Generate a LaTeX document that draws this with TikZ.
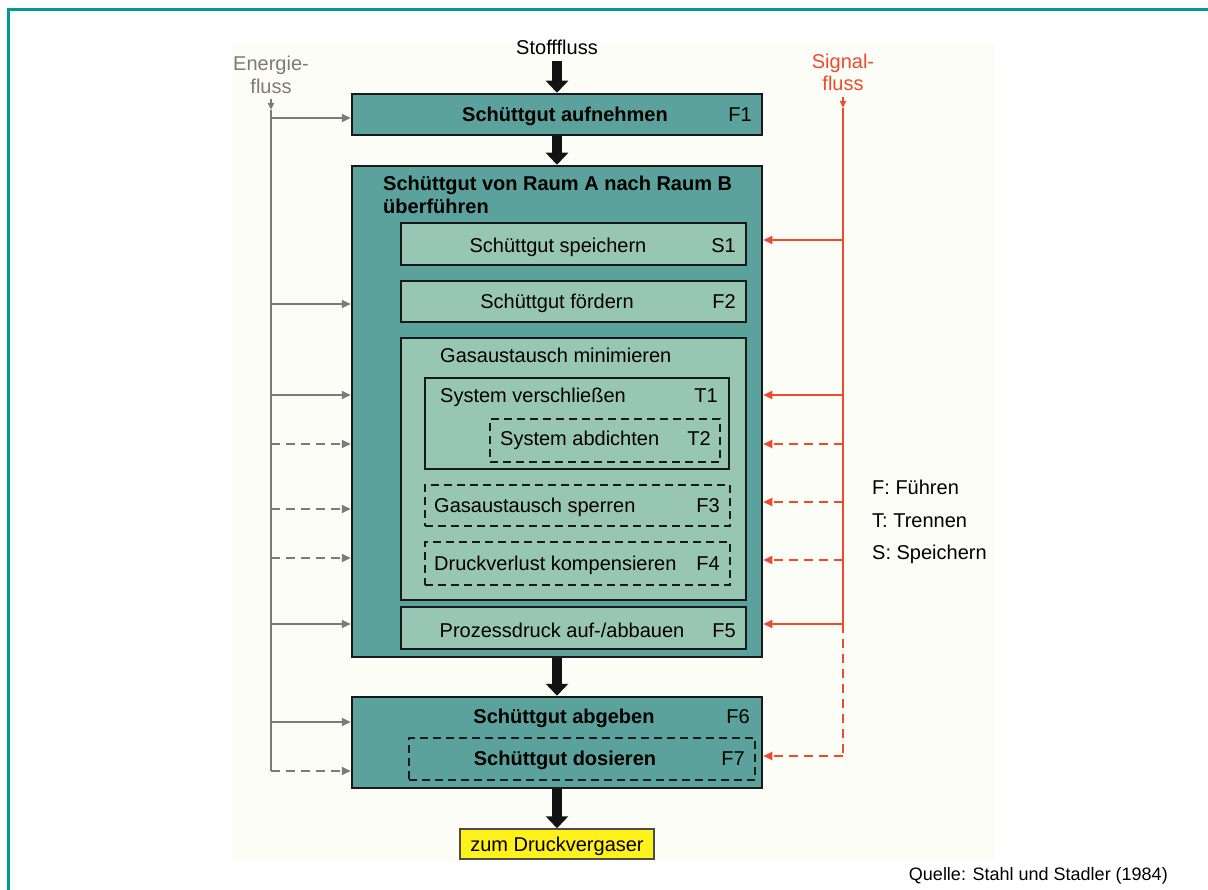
\documentclass[tikz,border=0pt]{standalone}
\usepackage{fontspec}
\setmainfont{Liberation Sans}
\usetikzlibrary{arrows.meta}

\definecolor{rahmen}{HTML}{009A93}
\definecolor{dunkel}{HTML}{5BA29C}
\definecolor{hell}{HTML}{97C6B2}
\definecolor{energie}{HTML}{7E7A78}
\definecolor{signal}{HTML}{EE4A2E}
\definecolor{gelb}{HTML}{FFF21A}
\definecolor{grund}{HTML}{FDFDF8}

\begin{document}
\begin{tikzpicture}[x=1pt,y=-1pt]
	\tikzset{aussen/.style={rectangle, draw=black!90, line width=2.5pt, fill=dunkel, inner sep=0pt},
		innen/.style={rectangle, draw=black!90, line width=2.5pt, fill=hell, inner sep=0pt},
		strich/.style={rectangle, draw=black!90, line width=2.3pt, dash pattern=on 8pt off 5pt, inner sep=0pt},
		txt/.style={inner sep=0pt, font=\fontsize{20}{24}\selectfont},
		fett/.style={inner sep=0pt, font=\fontsize{20}{24}\selectfont\bfseries},
		stoff/.style={draw=black!93, line width=10pt, -{Triangle[length=12pt, width=22pt]}},
		epfeil/.style={draw=energie, line width=2pt, -{Triangle[length=9pt, width=8pt]}},
		spfeil/.style={draw=signal, line width=2pt, -{Triangle[length=9pt, width=8pt]}},
		gestr/.style={dash pattern=on 9pt off 6pt}}
	\useasboundingbox (0,0) rectangle (1208,890);
	\fill[grund] (232,42) rectangle (995,862);
	\draw[rahmen, line width=3pt] (8.5,890) -- (8.5,9.5) -- (1208,9.5);

	% Kaesten
	\node[aussen, minimum width=410pt, minimum height=41pt] at (557,114.5) (f1) {};
	\node[aussen, minimum width=410pt, minimum height=491pt] at (557,411.5) (raum) {};
	\node[innen, minimum width=345pt, minimum height=42pt] at (573.5,244) (s1) {};
	\node[innen, minimum width=345pt, minimum height=41pt] at (573.5,301.5) (f2) {};
	\node[innen, minimum width=345pt, minimum height=262pt] at (573.5,469) (gas) {};
	\node[innen, minimum width=304pt, minimum height=91pt] at (577,423.5) (t1) {};
	\node[strich, minimum width=230pt, minimum height=43pt] at (605,440.5) (t2) {};
	\node[strich, minimum width=305pt, minimum height=41pt] at (577.5,505.5) (f3) {};
	\node[strich, minimum width=305pt, minimum height=43pt] at (577.5,563.5) (f4) {};
	\node[innen, minimum width=345pt, minimum height=42pt] at (573.5,628) (f5) {};
	\node[aussen, minimum width=410pt, minimum height=91pt] at (557,742.5) (f6) {};
	\node[strich, minimum width=346pt, minimum height=42pt] at (582,759) (f7) {};
	\node[rectangle, draw=black!70, line width=1.5pt, fill=gelb, minimum width=194pt, minimum height=30pt, inner sep=0pt] at (557,844) (ziel) {};

	% Texte
	\node[fett, anchor=base] at (565,122) (f1txt) {Schüttgut aufnehmen};
	\node[txt, anchor=base east] at (752,122) (f1nr) {F1};
	\node[fett, anchor=base west] at (383,191) (raumtxt) {Schüttgut von Raum A nach Raum B};
	\node[fett, anchor=base west] at (383,214) (raumtxtb) {überführen};
	\node[txt, anchor=base] at (558,253) (s1txt) {Schüttgut speichern};
	\node[txt, anchor=base east] at (736,253) (s1nr) {S1};
	\node[txt, anchor=base] at (557,309) (f2txt) {Schüttgut fördern};
	\node[txt, anchor=base east] at (736,309) (f2nr) {F2};
	\node[txt, anchor=base west] at (440,363) (gastxt) {Gasaustausch minimieren};
	\node[txt, anchor=base west] at (440,403) (t1txt) {System verschließen};
	\node[txt, anchor=base east] at (718,403) (t1nr) {T1};
	\node[txt, anchor=base west] at (500,446) (t2txt) {System abdichten};
	\node[txt, anchor=base east] at (711,446) (t2nr) {T2};
	\node[txt, anchor=base west] at (434,512) (f3txt) {Gasaustausch sperren};
	\node[txt, anchor=base east] at (720,512) (f3nr) {F3};
	\node[txt, anchor=base west] at (434,570) (f4txt) {Druckverlust kompensieren};
	\node[txt, anchor=base east] at (720,570) (f4nr) {F4};
	\node[txt, anchor=base] at (562,637) (f5txt) {Prozessdruck auf-/abbauen};
	\node[txt, anchor=base east] at (736,637) (f5nr) {F5};
	\node[fett, anchor=base] at (564,723) (f6txt) {Schüttgut abgeben};
	\node[txt, anchor=base east] at (750,723) (f6nr) {F6};
	\node[fett, anchor=base] at (565,765) (f7txt) {Schüttgut dosieren};
	\node[txt, anchor=base east] at (745,765) (f7nr) {F7};
	\node[txt, anchor=base] at (557,851) (zieltxt) {zum Druckvergaser};

	\node[txt, anchor=base] at (557,55) (stofftxt) {Stofffluss};
	\node[txt, anchor=base, text=energie] at (271,71) (energietxt) {Energie-};
	\node[txt, anchor=base, text=energie] at (271,94) (energietxtb) {fluss};
	\node[txt, anchor=base, text=signal] at (843,69) (signaltxt) {Signal-};
	\node[txt, anchor=base, text=signal] at (843,91) (signaltxtb) {fluss};

	\node[txt, anchor=base west] at (872,494) (legf) {F: Führen};
	\node[txt, anchor=base west] at (872,527) (legt) {T: Trennen};
	\node[txt, anchor=base west] at (872,559) (legs) {S: Speichern};
	\node[inner sep=0pt, anchor=base east, font=\fontsize{18}{20}\selectfont] at (1168,880) (quelle) {Quelle: Stahl und Stadler (1984)};

	% Stofffluss
	\draw[stoff] (557,61) -- (f1.north);
	\draw[stoff] (f1.south) -- (raum.north);
	\draw[stoff] (raum.south) -- (f6.north);
	\draw[stoff] (f6.south) -- (ziel.north);

	% Energiefluss
	\coordinate (etop) at (271,110);
	\coordinate (ebot) at (271,771);
	\draw[epfeil, -{Triangle[length=7pt, width=6pt]}] (271,99) -- (etop);
	\draw[energie, line width=2pt] (etop) -- (ebot);
	\coordinate (e1) at (271,118);
	\coordinate (e2) at (271,304);
	\coordinate (e3) at (271,395);
	\coordinate (e4) at (271,444);
	\coordinate (e5) at (271,509);
	\coordinate (e6) at (271,558);
	\coordinate (e7) at (271,624);
	\coordinate (e8) at (271,722);
	\draw[epfeil] (e1) -- (e1 -| f1.west);
	\draw[epfeil] (e2) -- (e2 -| raum.west);
	\draw[epfeil] (e3) -- (e3 -| raum.west);
	\draw[epfeil, gestr] (e4) -- (e4 -| raum.west);
	\draw[epfeil, gestr] (e5) -- (e5 -| raum.west);
	\draw[epfeil, gestr] (e6) -- (e6 -| raum.west);
	\draw[epfeil] (e7) -- (e7 -| raum.west);
	\draw[epfeil] (e8) -- (e8 -| f6.west);
	\draw[epfeil, gestr] (ebot) -- (ebot -| f6.west);

	% Signalfluss
	\coordinate (stop) at (843,108);
	\coordinate (s6) at (843,624);
	\coordinate (sbot) at (843,756);
	\draw[spfeil, -{Triangle[length=7pt, width=6pt]}] (843,97) -- (stop);
	\draw[signal, line width=2pt] (stop) -- (s6);
	\draw[signal, line width=2pt, gestr] (s6) -- (sbot);
	\coordinate (s1) at (843,240);
	\coordinate (s2) at (843,395);
	\coordinate (s3) at (843,444);
	\coordinate (s4) at (843,502);
	\coordinate (s5) at (843,560);
	\draw[spfeil] (s1) -- (s1 -| raum.east);
	\draw[spfeil] (s2) -- (s2 -| raum.east);
	\draw[spfeil, gestr] (s3) -- (s3 -| raum.east);
	\draw[spfeil, gestr] (s4) -- (s4 -| raum.east);
	\draw[spfeil, gestr] (s5) -- (s5 -| raum.east);
	\draw[spfeil] (s6) -- (s6 -| raum.east);
	\draw[spfeil, gestr] (sbot) -- (sbot -| f6.east);
\end{tikzpicture}
\end{document}
